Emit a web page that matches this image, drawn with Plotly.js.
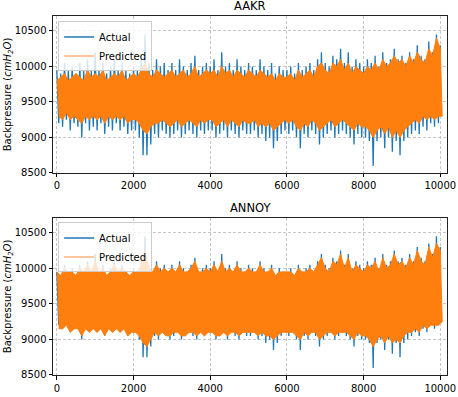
<!DOCTYPE html>
<html><head><meta charset="utf-8">
<script src="https://cdn.plot.ly/plotly-3.0.1.min.js"></script>
<style>html,body{margin:0;padding:0;background:#fff}#chart{width:458px;height:397px}</style>
</head><body><div id="chart"></div>
<script>
// Sample index of each envelope reading (every 100 samples)
const sampleStep = 100;
// Actual backpressure: upper / lower extremes read per 100-sample window (same series in both panels)
const actualHigh = [
 9950, 9900,10050, 9950,10000, 9900,10050, 9950,10100, 9950,
10200, 9950,10050, 9900,10000,10100, 9950,10050, 9950, 9900,
10000, 9950,10150,10450,10050, 9950,10100,10000,10050, 9950,
10050, 9950,10100,10000, 9950,10050,10150, 9950,10000,10050,
10000,10100, 9950,10200,10000,10050, 9950,10100,10000, 9950,
10050,10000, 9950,10100,10000, 9950,10050, 9900,10000, 9950,
 9950,10000, 9900,10050, 9950,10000,10050, 9950,10100,10200,
10050,10000,10150,10100,10250,10050,10200,10000,10100,10050,
10000,10100,10050,10150,10000,10200,10050,10100,10250,10100,
10150,10050,10200,10100,10300,10150,10100,10350,10200,10450,
10300];
const actualLow = [
 9200, 9150, 9250, 9100, 9200, 9150, 9000, 9200, 9100, 9150,
 9100, 9200, 9050, 9150, 9100, 9200, 9100, 9150, 9050, 9100,
 9100, 9000, 8750, 8750, 8900, 9050, 9000, 9100, 9050, 9000,
 9050, 9100, 9000, 9050, 9100, 9050, 9000, 9100, 9050, 9100,
 9100, 9000, 9050, 9100, 9000, 9100, 9050, 9000, 9100, 9050,
 9050, 9100, 9000, 9050, 8950, 9000, 8850, 8950, 9050, 9100,
 9050, 9100, 9000, 8850, 9050, 9000, 9100, 9050, 8900, 9000,
 9050, 9100, 9000, 9050, 9100, 9050, 9000, 8900, 9050, 9000,
 9000, 8950, 8600, 8950, 9000, 8850, 9000, 8800, 8950, 8750,
 8950, 9000, 9050, 9100, 9050, 9150, 9100, 9200, 9150, 9200,
 9250];
// AAKR prediction envelope
const aakrHigh = [
 9800, 9850, 9900, 9800, 9850, 9900, 9850, 9800, 9950, 9850,
 9900, 9850, 9950, 9800, 9850, 9900, 9850, 9950, 9800, 9850,
 9900, 9850, 9950,10050, 9900, 9850, 9950, 9900, 9850, 9900,
 9950, 9850, 9900, 9950, 9850, 9900,10000, 9850, 9900, 9950,
 9900, 9950, 9850,10000, 9900, 9950, 9850, 9950, 9900, 9850,
 9950, 9900, 9850, 9950, 9900, 9850, 9900, 9800, 9900, 9850,
 9850, 9900, 9800, 9950, 9850, 9900, 9950, 9850,10000,10050,
 9950, 9900,10050,10000,10100, 9950,10050, 9900,10000, 9950,
 9900,10000, 9950,10050, 9950,10100,10000,10050,10150,10050,
10100,10000,10150,10050,10200,10100,10050,10250,10150,10400,
10250];
const aakrLow = [
 9300, 9250, 9350, 9250, 9300, 9250, 9200, 9300, 9250, 9300,
 9250, 9300, 9200, 9300, 9250, 9300, 9250, 9300, 9200, 9250,
 9250, 9200, 9100, 9050, 9150, 9200, 9200, 9250, 9200, 9150,
 9200, 9250, 9150, 9200, 9250, 9200, 9150, 9250, 9200, 9250,
 9250, 9150, 9200, 9250, 9150, 9250, 9200, 9150, 9250, 9200,
 9200, 9250, 9150, 9200, 9150, 9200, 9100, 9150, 9200, 9250,
 9200, 9250, 9150, 9100, 9200, 9150, 9250, 9200, 9100, 9150,
 9200, 9250, 9150, 9200, 9250, 9200, 9150, 9100, 9200, 9150,
 9150, 9100, 9000, 9100, 9150, 9050, 9150, 9000, 9100, 9000,
 9100, 9150, 9200, 9250, 9200, 9300, 9250, 9300, 9250, 9300,
 9300];
// ANNOY prediction envelope
const annoyHigh = [
 9950, 9900,10000, 9950, 9950, 9900,10000, 9950,10050, 9950,
10100, 9950,10000, 9900, 9950,10050, 9950,10000, 9950, 9900,
 9950, 9950,10050,10250,10000, 9950,10050, 9950,10000, 9950,
10000, 9950,10050, 9950, 9950,10000,10100, 9950, 9950,10000,
 9950,10050, 9950,10100, 9950,10000, 9950,10050, 9950, 9950,
10000, 9950, 9950,10050, 9950, 9950,10000, 9900, 9950, 9950,
 9950, 9950, 9900,10000, 9950, 9950,10000, 9950,10050,10150,
10000, 9950,10100,10050,10200,10000,10150, 9950,10050,10000,
 9950,10050,10000,10100, 9950,10150,10000,10050,10200,10050,
10100,10000,10150,10050,10250,10100,10050,10300,10150,10350,
10250];
const annoyLow = [
 9150, 9150, 9200, 9100, 9150, 9150, 9050, 9150, 9100, 9150,
 9100, 9150, 9050, 9150, 9100, 9150, 9100, 9150, 9050, 9100,
 9100, 9050, 8950, 8900, 9000, 9100, 9050, 9100, 9050, 9050,
 9100, 9100, 9050, 9050, 9100, 9100, 9050, 9100, 9050, 9100,
 9100, 9050, 9050, 9100, 9050, 9100, 9100, 9050, 9100, 9100,
 9100, 9100, 9050, 9100, 9050, 9050, 9000, 9050, 9100, 9100,
 9100, 9100, 9050, 9000, 9100, 9050, 9100, 9100, 9000, 9050,
 9100, 9100, 9050, 9100, 9100, 9100, 9050, 9000, 9100, 9050,
 9050, 9000, 8900, 9000, 9050, 8950, 9050, 8950, 9000, 8950,
 9050, 9100, 9100, 9150, 9100, 9200, 9150, 9200, 9200, 9200,
 9250];
const panelTitles = ["AAKR", "ANNOY"];
const seriesNames = ["Actual", "Predicted"];
const yTicks = [8500, 9000, 9500, 10000, 10500];
const yTickText = ["8500", "9000", "9500", "10000", "10500"];
const xTicks = [0, 2000, 4000, 6000, 8000, 10000];
const xTickText = ["0", "2000", "4000", "6000", "8000", "10000"];

// Noisy line: alternate the high and low readings of each window
function zigzag(hi, lo) {
  const x = [], y = [];
  for (let i = 0; i < hi.length; i++) {
    x.push(i * sampleStep); y.push(hi[i]);
    if (i < lo.length - 1) { x.push(i * sampleStep + sampleStep / 2); y.push(lo[i]); }
  }
  return {x, y};
}
// Closed band: upper readings left-to-right, lower readings right-to-left
function band(hi, lo) {
  const x = [], y = [];
  for (let i = 0; i < hi.length; i++) { x.push(i * sampleStep); y.push(hi[i]); }
  for (let i = lo.length - 1; i >= 0; i--) { x.push(i * sampleStep + sampleStep / 2); y.push(lo[i]); }
  return {x, y};
}
const blue = '#1f77b4', orange = '#ff7f0e';
const a = zigzag(actualHigh, actualLow);
const p1 = band(aakrHigh, aakrLow);
const p2 = band(annoyHigh, annoyLow);
function line(d, xa, ya) {
  return {x: d.x, y: d.y, type: 'scatter', mode: 'lines', line: {color: blue, width: 1.3}, xaxis: xa, yaxis: ya, showlegend: false, hoverinfo: 'skip'};
}
function area(d, xa, ya) {
  return {x: d.x, y: d.y, type: 'scatter', mode: 'lines', fill: 'toself', fillcolor: orange,
    line: {color: orange, width: 1}, xaxis: xa, yaxis: ya, showlegend: false, hoverinfo: 'skip'};
}
function key(name, color, lg) {
  return {x: [null], y: [null], type: 'scatter', mode: 'lines', name: name, line: {color: color, width: 1.5}, legend: lg, xaxis: 'x', yaxis: 'y'};
}
const traces = [
  line(a, 'x', 'y'), area(p1, 'x', 'y'),
  line(a, 'x2', 'y2'), area(p2, 'x2', 'y2'),
  key(seriesNames[0], blue, 'legend'), key(seriesNames[1], '#ffb27a', 'legend'),
  key(seriesNames[0], blue, 'legend2'), key(seriesNames[1], '#ffb27a', 'legend2')
];
const font = {family: 'DejaVu Sans', size: 10, color: '#000'};
function xax(anchor) {
  return {range: [-100, 10175], tickvals: xTicks, ticktext: xTickText, ticks: 'outside', ticklen: 3.5, tickwidth: 1, tickcolor: '#000',
    showline: true, mirror: true, linecolor: '#222', linewidth: 1, showgrid: true, gridcolor: '#b8b8b8', griddash: '3px,2px', gridwidth: 0.8,
    zeroline: false, tickfont: font, anchor: anchor};
}
function yax(anchor, domain) {
  return {range: [8500, 10711], domain: domain, tickvals: yTicks, ticktext: yTickText, ticks: 'outside', ticklen: 3.5, tickwidth: 1, tickcolor: '#000',
    showline: true, mirror: true, linecolor: '#222', linewidth: 1, showgrid: true, gridcolor: '#b8b8b8', griddash: '3px,2px', gridwidth: 0.8,
    zeroline: false, tickfont: font, anchor: anchor,
    title: {text: 'Backpressure (<i>cmH<sub>2</sub>O</i>)', font: {family: 'DejaVu Sans', size: 10, color: '#000'}, standoff: 1}};
}
const legendStyle = {x: 0.013, xanchor: 'left', yanchor: 'top', bgcolor: 'rgba(255,255,255,0.8)', bordercolor: '#cccccc', borderwidth: 1,
  font: {family: 'DejaVu Sans', size: 10, color: '#000'}, tracegroupgap: 0, itemwidth: 30};
const layout = {
  width: 458, height: 397,
  margin: {l: 53, r: 11, t: 16, b: 22},
  paper_bgcolor: '#fff', plot_bgcolor: '#fff',
  showlegend: true,
  xaxis: xax('y'), yaxis: yax('x', [0.5627, 1]),
  xaxis2: xax('y2'), yaxis2: yax('x2', [0, 0.438]),
  legend: Object.assign({y: 0.985}, legendStyle),
  legend2: Object.assign({y: 0.425}, legendStyle),
  annotations: [
    {text: panelTitles[0], xref: 'paper', yref: 'paper', x: 0.5, y: 1, yshift: 1, xanchor: 'center', yanchor: 'bottom', showarrow: false, font: {family: 'DejaVu Sans', size: 11.5, color: '#000'}},
    {text: panelTitles[1], xref: 'paper', yref: 'paper', x: 0.5, y: 0.438, yshift: 1, xanchor: 'center', yanchor: 'bottom', showarrow: false, font: {family: 'DejaVu Sans', size: 11.5, color: '#000'}}
  ]
};
Plotly.newPlot('chart', traces, layout, {displayModeBar: false, staticPlot: true});
</script>
</body></html>
